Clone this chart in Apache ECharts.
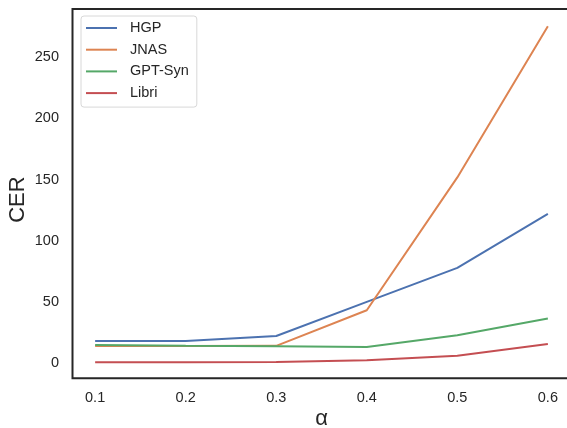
<!DOCTYPE html>
<html>
<head>
<meta charset="utf-8">
<script src="https://cdn.jsdelivr.net/npm/echarts@6/dist/echarts.min.js"></script>
<style>html,body{margin:0;padding:0;background:#fff}#c{width:567px;height:428px}</style>
</head>
<body>
<div id="c"></div>
<script>
const alphas = [0.1, 0.2, 0.3, 0.4, 0.5, 0.6];
const hgp    = [18.3, 18.2, 22.3, 50.2, 78.0, 122.0];
const jnas   = [14.2, 14.2, 14.3, 43.4, 151.8, 275.3];
const gptSyn = [15.0, 14.3, 14.0, 13.4, 22.9, 36.7];
const libri  = [1.0, 1.0, 1.1, 2.6, 6.3, 15.8];
const xTicks = [0.1, 0.2, 0.3, 0.4, 0.5, 0.6];
const yTicks = [0, 50, 100, 150, 200, 250];
const seriesNames = ['HGP', 'JNAS', 'GPT-Syn', 'Libri'];
const seriesData = [hgp, jnas, gptSyn, libri];
const colors = ['#4C72B0', '#DD8452', '#55A868', '#C44E52'];

const chart = echarts.init(document.getElementById('c'), null, {renderer: 'canvas'});
const font = 'Liberation Sans, Arial, sans-serif';
chart.setOption({
  animation: false,
  color: colors,
  grid: {left: 72.5, top: 9, width: 498, height: 369.3, show: true, borderColor: '#262626', borderWidth: 2,
    backgroundColor: '#fff', outerBoundsMode: 'none', containLabel: false},
  legend: {
    orient: 'vertical', left: 81, top: 16,
    data: seriesNames,
    icon: 'rect', itemWidth: 31, itemHeight: 2, itemGap: 5.7,
    backgroundColor: '#fff', borderColor: '#d8d8d8', borderWidth: 1, borderRadius: 3,
    padding: [4, 8, 6, 5],
    textStyle: {fontFamily: font, fontSize: 14.5, color: '#262626', lineHeight: 16, padding: [0, 0, 0, 8]}
  },
  xAxis: {
    type: 'value', min: 0.075, max: 0.625,
    name: 'α', nameLocation: 'middle', nameGap: 30, nameMoveOverlap: false,
    nameTextStyle: {fontFamily: font, fontSize: 22, color: '#262626'},
    splitLine: {show: false}, axisTick: {show: false},
    axisLine: {show: false},
    axisLabel: {customValues: xTicks, margin: 12, fontFamily: font, fontSize: 14.5, color: '#262626',
      formatter: v => v.toFixed(1)}
  },
  yAxis: {
    type: 'value', min: -12.2, max: 289.3,
    name: 'CER', nameLocation: 'middle', nameGap: 44, nameRotate: 90, nameMoveOverlap: false,
    nameTextStyle: {fontFamily: font, fontSize: 22, color: '#262626', padding: [0, 12, 0, 0]},
    splitLine: {show: false}, axisTick: {show: false},
    axisLine: {show: false},
    axisLabel: {customValues: yTicks, margin: 13.5, fontFamily: font, fontSize: 14.5, color: '#262626'}
  },
  series: seriesNames.map((n, i) => ({
    name: n, type: 'line', symbol: 'none',
    data: alphas.map((a, j) => [a, seriesData[i][j]]),
    lineStyle: {width: 2, color: colors[i]},
    itemStyle: {color: colors[i]}
  }))
});
</script>
</body>
</html>
